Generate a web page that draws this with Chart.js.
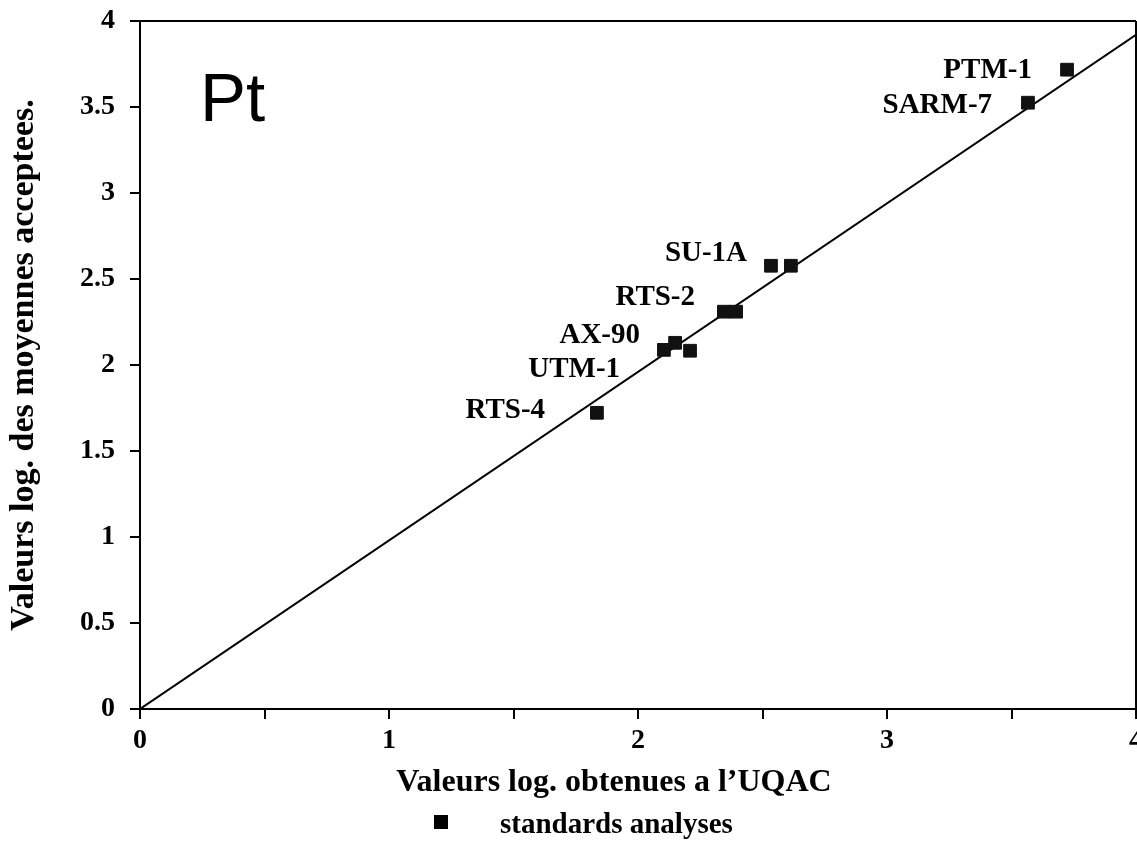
<!DOCTYPE html>
<html>
<head>
<meta charset="utf-8">
<script src="https://cdn.jsdelivr.net/npm/chart.js@4/dist/chart.umd.min.js"></script>
<style>
  html, body { margin: 0; padding: 0; background: #fff; overflow: hidden; }
  #wrap { width: 1180px; height: 848px; }
</style>
</head>
<body>
<div id="wrap"><canvas id="chartCanvas" width="1180" height="848"></canvas></div>
<script>
// standards analysed: log values (UQAC vs accepted means)
let sampleNames = ['RTS-4', 'UTM-1', 'AX-90', 'AX-90', 'RTS-2', 'RTS-2', 'SU-1A', 'SU-1A', 'SARM-7', 'PTM-1'];
let uqacValues = [1.835, 2.104, 2.149, 2.209, 2.345, 2.394, 2.534, 2.614, 3.566, 3.723];
let acceptedValues = [1.722, 2.088, 2.129, 2.083, 2.31, 2.31, 2.577, 2.577, 3.525, 3.717];

// reference line
let lineX = [0, 4];
let lineY = [0, 3.92];

let xTickValues = [0, 0.5, 1, 1.5, 2, 2.5, 3, 3.5, 4];
let xTickLabels = ['0', '', '1', '', '2', '', '3', '', '4'];
let yTickValues = [0, 0.5, 1, 1.5, 2, 2.5, 3, 3.5, 4];
let yTickLabels = ['0', '0.5', '1', '1.5', '2', '2.5', '3', '3.5', '4'];

let serif = '"Liberation Serif", "Times New Roman", serif';

// where each sample name sits (right end of the text, in axis units)
let nameSpots = [
  { text: 'PTM-1', x: 3.582, y: 3.711 },
  { text: 'SARM-7', x: 3.422, y: 3.508 },
  { text: 'SU-1A', x: 2.438, y: 2.647 },
  { text: 'RTS-2', x: 2.229, y: 2.391 },
  { text: 'AX-90', x: 2.008, y: 2.170 },
  { text: 'UTM-1', x: 1.928, y: 1.972 },
  { text: 'RTS-4', x: 1.627, y: 1.734 }
];

let textPlugin = {
  id: 'textPlugin',
  afterDraw(chart) {
    let c = chart.ctx;
    let xs = chart.scales.x;
    let ys = chart.scales.y;
    c.save();
    c.fillStyle = '#000';

    c.font = '69px "Liberation Sans", Arial, sans-serif';
    c.textAlign = 'left';
    c.textBaseline = 'alphabetic';
    c.fillText('Pt', 200, 121);

    c.font = 'bold 29px ' + serif;
    c.textAlign = 'right';
    c.textBaseline = 'middle';
    nameSpots.forEach(s => {
      c.fillText(s.text, xs.getPixelForValue(s.x), ys.getPixelForValue(s.y));
    });

    c.font = 'bold 32px ' + serif;
    c.textAlign = 'center';
    c.fillText('Valeurs log. obtenues a l\u2019UQAC', 614, 783);

    c.fillRect(434, 815, 14, 14);
    c.font = 'bold 29px ' + serif;
    c.textAlign = 'left';
    c.fillText('standards analyses', 500, 826);
    c.restore();
  }
};

let ctx = document.getElementById('chartCanvas').getContext('2d');
Chart.defaults.color = '#000';

let chartInstance = new Chart(ctx, {
  type: 'scatter',
  data: {
    datasets: [{
      label: 'standards analyses',
      data: uqacValues.map((v, i) => ({ x: v, y: acceptedValues[i], name: sampleNames[i] })),
      backgroundColor: '#111',
      borderColor: '#111',
      borderWidth: 1,
      pointStyle: 'rect',
      pointRadius: 9,
      pointHoverRadius: 9
    },
    {
      type: 'line',
      label: 'ligne',
      data: lineX.map((v, i) => ({ x: v, y: lineY[i] })),
      borderColor: '#000',
      borderWidth: 2,
      pointRadius: 0,
      fill: false
    }]
  },
  options: {
    responsive: false,
    animation: false,
    layout: { padding: { left: 0, top: 21, right: 44, bottom: 0 } },
    plugins: {
      legend: { display: false },
      tooltip: { enabled: false }
    },
    scales: {
      x: {
        type: 'linear',
        min: 0,
        max: 4,
        afterBuildTicks: s => { s.ticks = xTickValues.map(v => ({ value: v })); },
        afterFit: s => { s.height = 139; s.paddingLeft = 0; s.paddingRight = 0; },
        ticks: {
          padding: 5,
          maxRotation: 0,
          autoSkip: false,
          font: { family: serif, size: 28, weight: 'bold' },
          callback: (v, i) => xTickLabels[i]
        },
        grid: {
          drawOnChartArea: true,
          color: c => (c.tick && c.tick.value === 4) ? '#000' : 'rgba(0,0,0,0)',
          tickColor: '#000',
          lineWidth: 2,
          tickLength: 10
        },
        border: { display: true, color: '#000', width: 2 }
      },
      y: {
        type: 'linear',
        min: 0,
        max: 4,
        afterBuildTicks: s => { s.ticks = yTickValues.map(v => ({ value: v })); },
        afterFit: s => { s.width = 140; s.paddingTop = 0; s.paddingBottom = 0; },
        ticks: {
          padding: 15,
          autoSkip: false,
          font: { family: serif, size: 28, weight: 'bold' },
          callback: (v, i) => yTickLabels[i]
        },
        grid: {
          drawOnChartArea: true,
          color: c => (c.tick && c.tick.value === 4) ? '#000' : 'rgba(0,0,0,0)',
          tickColor: '#000',
          lineWidth: 2,
          tickLength: 10
        },
        border: { display: true, color: '#000', width: 2 },
        title: {
          display: true,
          text: 'Valeurs log. des moyennes acceptees.',
          color: '#000',
          padding: { top: 4, bottom: 0 },
          font: { family: serif, size: 34, weight: 'bold' }
        }
      }
    }
  },
  plugins: [textPlugin]
});
</script>
</body>
</html>
